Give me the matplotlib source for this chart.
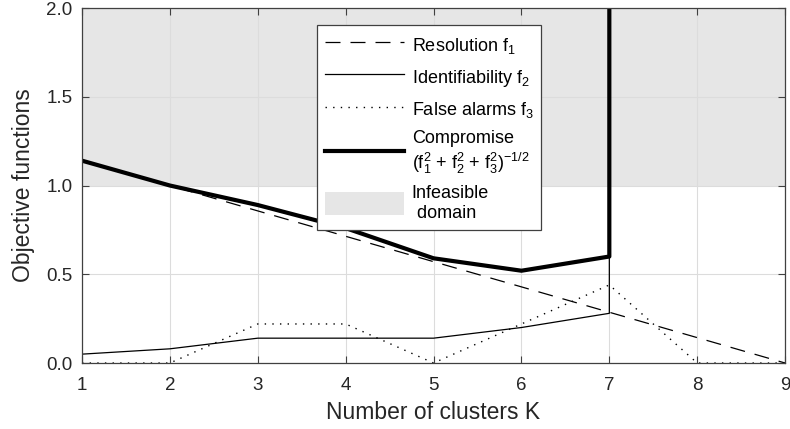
import numpy as np
from matplotlib import pylab as plt
from matplotlib.patches import Patch
from matplotlib.lines import Line2D

plt.rcParams["font.family"] = ["Liberation Sans", "DejaVu Sans"]
plt.rcParams["mathtext.fontset"] = "custom"
plt.rcParams["mathtext.rm"] = "Liberation Sans"
plt.rcParams["mathtext.it"] = "Liberation Sans"

# 数据
K = [1, 2, 3, 4, 5, 6, 7, 8, 9]
f1 = [1.143, 1.0, 0.857, 0.714, 0.571, 0.429, 0.286, 0.143, 0.0]
# 可识别性在 K=7 之后发散（竖线）
K2 = [1, 2, 3, 4, 5, 6, 7, 7]
f2 = [0.05, 0.08, 0.14, 0.14, 0.14, 0.20, 0.28, 100]
f3 = [0.0, 0.0, 0.22, 0.22, 0.0, 0.22, 0.44, 0.0, 0.0]
Kc = [1, 2, 3, 4, 5, 6, 7, 7]
fc = [1.14, 1.0, 0.89, 0.76, 0.59, 0.52, 0.60, 100]

fig = plt.figure(figsize=(7.9, 4.29), dpi=100)
ax = fig.add_axes([0.1038, 0.1538, 0.89, 0.8275])

# 不可行区域
ax.axhspan(1.0, 2.0, color="#e6e6e6", lw=0, zorder=0)

ax.plot(K, f1, color="black", lw=0.9, dashes=(12, 8))
ax.plot(K2, f2, color="black", lw=0.9)
ax.plot(K, f3, color="black", lw=1.0, dashes=(1, 4.5))
ax.plot(Kc, fc, color="black", lw=3)

ax.set_xlim(1, 9)
ax.set_ylim(0, 2)
ax.set_xticks(range(1, 10))
ax.set_yticks([0, 0.5, 1.0, 1.5, 2.0])
ax.set_yticklabels(["0.0", "0.5", "1.0", "1.5", "2.0"])
ax.grid(True, color="#dcdcdc", lw=0.8)
ax.set_axisbelow(True)
ax.tick_params(direction="in", length=5, top=True, right=True, labelsize=13.5,
               color="#404040", labelcolor="#262626")
ax.tick_params(axis="x", pad=10)
ax.tick_params(axis="y", pad=7)
for s in ax.spines.values():
    s.set_color("#404040")
    s.set_linewidth(0.9)
ax.set_xlabel("Number of clusters K", fontsize=16.5, color="#262626", labelpad=5)
ax.set_ylabel("Objective functions", fontsize=16.5, color="#262626", labelpad=8)

handles = [
    Line2D([], [], color="black", lw=0.9, dashes=(12, 8)),
    Line2D([], [], color="black", lw=0.9),
    Line2D([], [], color="black", lw=1.0, dashes=(1, 4.5)),
    Line2D([], [], color="black", lw=3),
    Patch(facecolor="#e6e6e6", edgecolor="none"),
]
labels = [
    r"Resolution f$_1$",
    r"Identifiability f$_2$",
    r"False alarms f$_3$",
    "Compromise\n" + r"(f$_1^2$ + f$_2^2$ + f$_3^2$)$^{-1/2}$",
    "Infeasible\n domain",
]
leg = ax.legend(handles, labels, loc="upper left", bbox_to_anchor=(0.334, 0.952),
                borderaxespad=0, fontsize=13, frameon=True, fancybox=False,
                handlelength=4.4, handletextpad=0.4, handleheight=1.6,
                borderpad=0.45, labelspacing=0.5)
leg.get_frame().set_edgecolor("#404040")
leg.get_frame().set_linewidth(0.9)
leg.get_frame().set_alpha(1)

plt.savefig("out.png", dpi=100)
